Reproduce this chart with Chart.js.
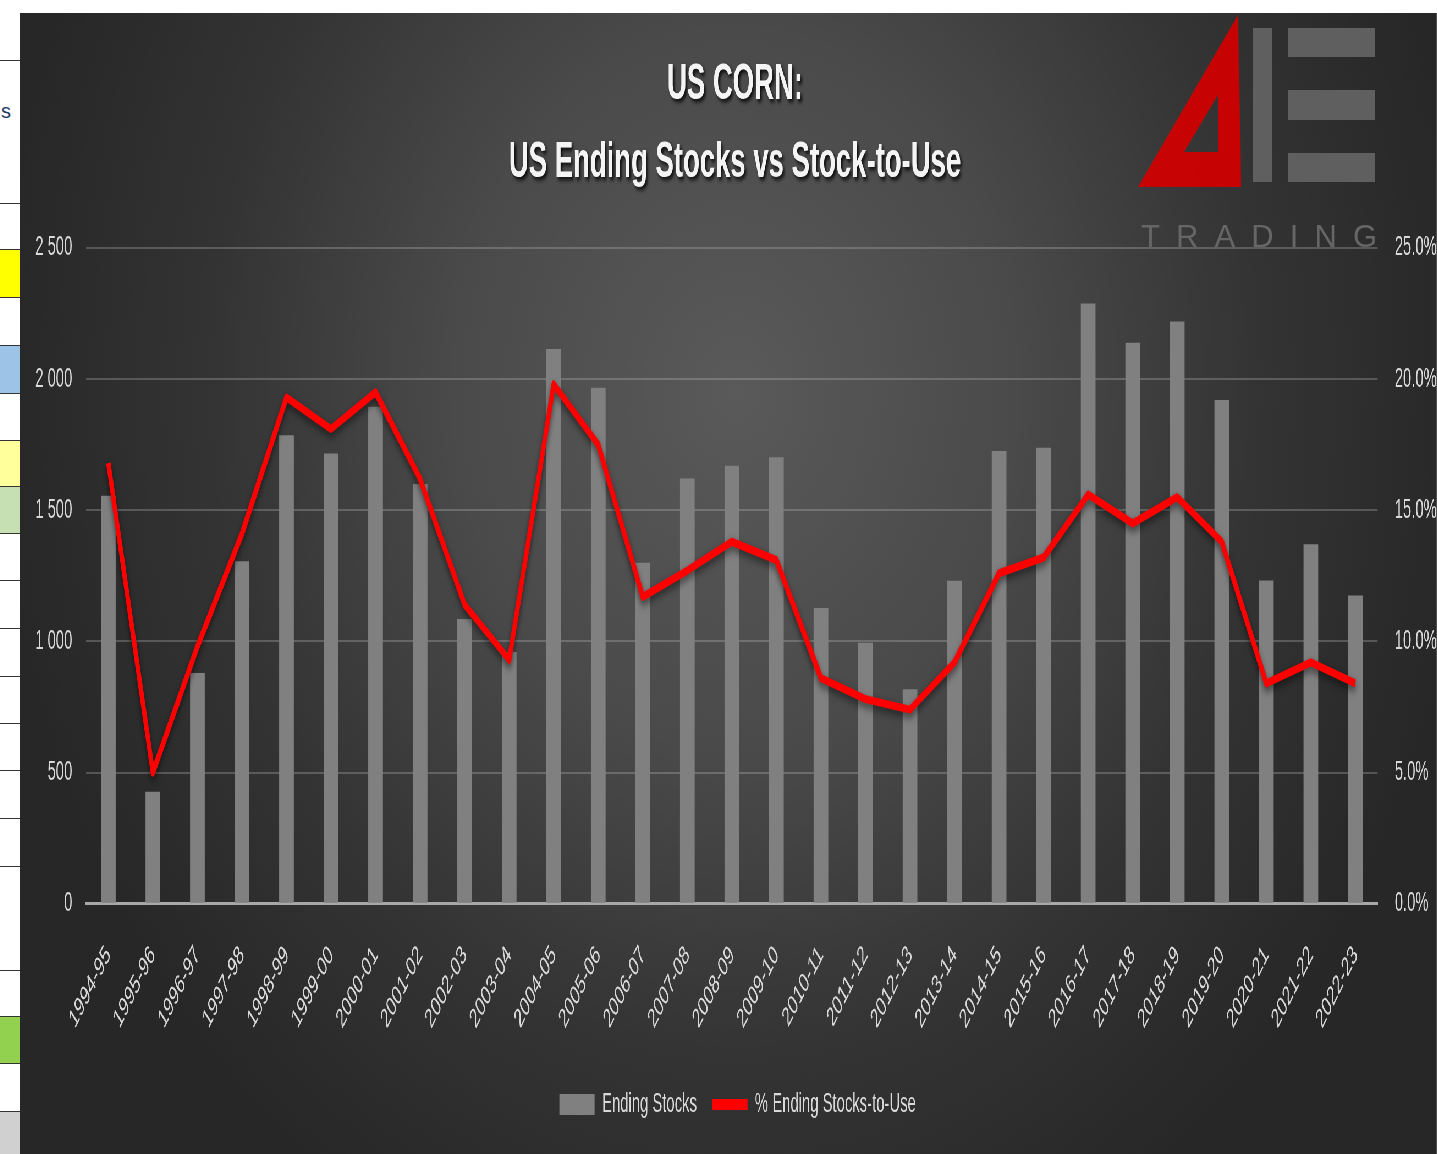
<!DOCTYPE html>
<html>
<head>
<meta charset="utf-8">
<title>US Corn ending stocks</title>
<script src="https://cdn.jsdelivr.net/npm/chart.js@4.4.0/dist/chart.umd.min.js"></script>
<style>
html, body { margin: 0; padding: 0; width: 1437px; height: 1154px; overflow: hidden; background: #fff; font-family: "Liberation Sans", Arial, sans-serif; }
#sheet { position: absolute; left: 0; top: 0; width: 20px; height: 1154px; background: #fff; overflow: hidden; }
#sheet .cell { position: absolute; left: 0; width: 20px; }
#sheet .ln { position: absolute; left: 0; width: 20px; height: 1px; background: #333; }
#sheet .txt { position: absolute; left: 1px; top: 100px; font-size: 20px; color: #1f3864; }
/* the source picture is an Excel chart squeezed sideways, so the chart is drawn wide and scaled down */
#wrap { position: absolute; left: 20px; top: 13px; width: 2576px; height: 1141px; transform: scaleX(0.55); transform-origin: 0 0;
  background: radial-gradient(ellipse 1350px 950px at 50.5% 33%, #5a5a5a 0%, #4a4a4a 38%, #343434 70%, #272727 100%); }
#logo { position: absolute; left: 0; top: 0; pointer-events: none; }
</style>
</head>
<body>
<div id="sheet"></div>
<div id="wrap"><canvas id="chart"></canvas></div>
<svg id="logo" width="1437" height="260">
  <path d="M1238 15 L1241 187 L1138 187 Z M1218 95 L1218 152 L1184 152 Z" fill="#d00000" fill-rule="evenodd" opacity="0.95"/>
  <rect x="1253" y="28" width="19" height="154" fill="#5f5f5f"/>
  <rect x="1288" y="28" width="87" height="29" fill="#5f5f5f"/>
  <rect x="1288" y="90" width="87" height="30" fill="#5f5f5f"/>
  <rect x="1288" y="153" width="87" height="29" fill="#5f5f5f"/>
  <text x="1141" y="247" font-family="Liberation Sans" font-size="31" fill="#666" textLength="236" lengthAdjust="spacing">TRADING</text>
</svg>
<script>
// data
const seasons = ['1994-95', '1995-96', '1996-97', '1997-98', '1998-99', '1999-00', '2000-01', '2001-02', '2002-03', '2003-04',
  '2004-05', '2005-06', '2006-07', '2007-08', '2008-09', '2009-10', '2010-11', '2011-12', '2012-13', '2013-14',
  '2014-15', '2015-16', '2016-17', '2017-18', '2018-19', '2019-20', '2020-21', '2021-22', '2022-23'];
const endingStocks = [1555, 427, 880, 1306, 1786, 1716, 1895, 1600, 1085, 960,
  2115, 1967, 1300, 1621, 1670, 1702, 1127, 995, 818, 1231,
  1726, 1738, 2288, 2139, 2220, 1920, 1232, 1370, 1175];
const stocksToUse = [16.8, 5.0, 9.8, 14.1, 19.3, 18.1, 19.5, 16.2, 11.4, 9.3,
  19.8, 17.5, 11.7, 12.7, 13.8, 13.1, 8.6, 7.8, 7.4, 9.2,
  12.6, 13.2, 15.6, 14.5, 15.5, 13.8, 8.4, 9.2, 8.4];
const leftTicks = ['0', '500', '1 000', '1 500', '2 000', '2 500'];
const rightTicks = ['0.0%', '5.0%', '10.0%', '15.0%', '20.0%', '25.0%'];
const titleLines = ['US CORN:', 'US Ending Stocks vs Stock-to-Use'];
const seriesNames = ['Ending Stocks', '% Ending Stocks-to-Use'];

// spreadsheet cells peeking in on the left
const sheetFills = [[250, 47, '#ffff00'], [345, 48, '#9dc3e6'], [440, 46, '#ffff9c'], [486, 47, '#c6e0b4'], [1016, 47, '#92d050'], [1111, 43, '#d0d0d0']];
const sheetLines = [60, 203, 249, 297, 345, 393, 440, 486, 533, 580, 628, 676, 723, 770, 818, 866, 970, 1016, 1063, 1111];
const sheet = document.getElementById('sheet');
sheetFills.forEach(function (f) {
  const d = document.createElement('div');
  d.className = 'cell';
  d.style.top = f[0] + 'px'; d.style.height = f[1] + 'px'; d.style.background = f[2];
  sheet.appendChild(d);
});
sheetLines.forEach(function (y) {
  const d = document.createElement('div');
  d.className = 'ln';
  d.style.top = y + 'px';
  sheet.appendChild(d);
});
const s = document.createElement('div');
s.className = 'txt';
s.textContent = 's';
sheet.appendChild(s);

const tickFont = { family: 'Liberation Sans', size: 27 };
const tickColor = '#d9d9d9';

const titlePlugin = {
  id: 'titleText',
  afterDraw(chart) {
    const ctx = chart.ctx;
    ctx.save();
    ctx.font = 'bold 50px "Liberation Sans"';
    ctx.fillStyle = '#f4f4f4';
    ctx.textAlign = 'center';
    ctx.textBaseline = 'middle';
    ctx.shadowColor = 'rgba(0,0,0,0.85)';
    ctx.shadowOffsetX = 3;
    ctx.shadowOffsetY = 3;
    ctx.shadowBlur = 4;
    titleLines.forEach(function (t, i) { ctx.fillText(t, 1300, 72 + i * 78); });
    ctx.restore();
  }
};

const lineShadow = {
  id: 'lineShadow',
  beforeDatasetDraw(chart, args) {
    if (args.meta.type !== 'line') return;
    const ctx = chart.ctx;
    ctx.save();
    ctx.shadowColor = 'rgba(0,0,0,0.55)';
    ctx.shadowBlur = 8;
    ctx.shadowOffsetY = 4;
  },
  afterDatasetDraw(chart, args) {
    if (args.meta.type !== 'line') return;
    chart.ctx.restore();
  }
};

let ctx = document.getElementById('chart').getContext('2d');
let chart = new Chart(ctx, {
  type: 'bar',
  data: {
    labels: seasons,
    datasets: [
      {
        label: seriesNames[0],
        data: endingStocks,
        backgroundColor: '#808080',
        borderWidth: 0,
        barPercentage: 0.33,
        categoryPercentage: 1,
        yAxisID: 'y',
        order: 1
      },
      {
        type: 'line',
        label: seriesNames[1],
        data: stocksToUse,
        borderColor: '#ff0000',
        backgroundColor: '#ff0000',
        borderWidth: 8,
        pointRadius: 0,
        tension: 0,
        borderJoinStyle: 'round',
        yAxisID: 'y1',
        order: 0
      }
    ]
  },
  options: {
    responsive: true,
    maintainAspectRatio: false,
    animation: false,
    layout: { padding: { top: 235, left: 2.5, right: -31, bottom: 26 } },
    scales: {
      x: {
        grid: { display: false },
        border: { color: '#a8a8a8', width: 3 },
        ticks: { color: tickColor, font: tickFont, minRotation: 48, maxRotation: 48, padding: 28, autoSkip: false }
      },
      y: {
        position: 'left',
        min: 0,
        max: 2500,
        grid: { color: 'rgba(200,200,200,0.28)', lineWidth: 2, drawTicks: false },
        border: { display: false },
        ticks: {
          stepSize: 500, color: tickColor, font: tickFont, padding: 25,
          callback: function (v) { return leftTicks[v / 500]; }
        }
      },
      y1: {
        position: 'right',
        min: 0,
        max: 25,
        grid: { display: false, drawTicks: false },
        border: { display: false },
        ticks: {
          stepSize: 5, color: tickColor, font: tickFont, padding: 31,
          callback: function (v) { return rightTicks[v / 5]; }
        }
      }
    },
    plugins: {
      title: { display: false },
      tooltip: { enabled: false },
      legend: {
        position: 'bottom',
        labels: {
          color: tickColor,
          font: tickFont,
          usePointStyle: true,
          pointStyleWidth: 64,
          boxHeight: 21,
          padding: 28,
          sort: function (a, b) { return a.datasetIndex - b.datasetIndex; },
          generateLabels: function (chart) {
            const items = Chart.defaults.plugins.legend.labels.generateLabels(chart);
            items.forEach(function (it) {
              if (it.datasetIndex === 1) {
                it.pointStyle = 'line';
                it.lineWidth = 11;
                it.strokeStyle = '#ff0000';
              } else {
                it.pointStyle = 'rect';
                it.lineWidth = 0;
                it.fillStyle = '#808080';
                it.strokeStyle = '#808080';
              }
            });
            return items;
          }
        }
      }
    }
  },
  plugins: [titlePlugin, lineShadow]
});
</script>
</body>
</html>
